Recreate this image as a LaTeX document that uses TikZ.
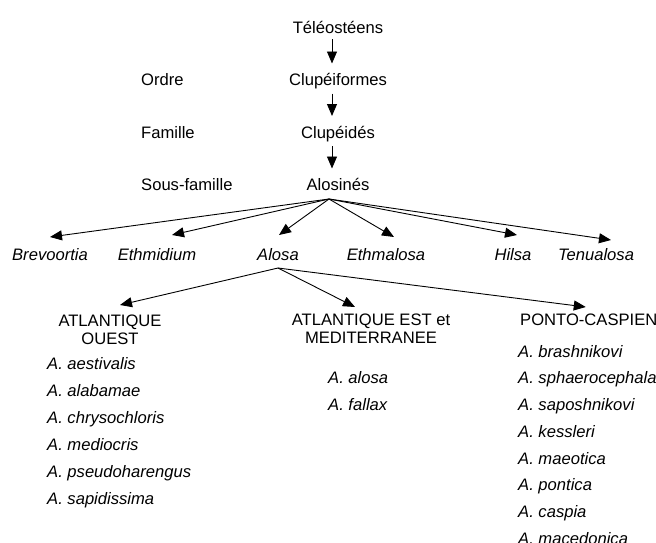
\documentclass[tikz,border=0pt]{standalone}
\usepackage{fontspec}
\setmainfont{Liberation Sans}
\usetikzlibrary{arrows.meta}
\begin{document}
\begin{tikzpicture}[x=1pt,y=-1pt,
  every node/.style={inner sep=0pt, font=\fontsize{16.6}{18}\selectfont},
  lbl/.style={anchor=base},
  rank/.style={anchor=base west},
  genus/.style={anchor=base, font=\fontsize{16.6}{18}\selectfont\itshape},
  sp/.style={anchor=base west, font=\fontsize{16.6}{18}\selectfont\itshape},
  region/.style={anchor=north, align=center},
  link/.style={line width=0.9pt, -{Triangle[length=12pt,width=10pt]}}]
\useasboundingbox (0,0) rectangle (656,542);
% main column
\node[lbl] (tel) at (338,33) {Téléostéens};
\node[lbl] (clf) at (338,85.5) {Clupéiformes};
\node[lbl] (cld) at (338,138) {Clupéidés};
\node[lbl] (als) at (338,190.5) {Alosinés};
\node[rank] (ord) at (141,85) {Ordre};
\node[rank] (fam) at (141,138) {Famille};
\node[rank] (sfam) at (141,190.5) {Sous-famille};
% genera
\node[genus] (bre) at (50,260) {Brevoortia};
\node[genus] (eth) at (157,260) {Ethmidium};
\node[genus] (alo) at (278,260) {Alosa};
\node[genus] (etm) at (386,260) {Ethmalosa};
\node[genus] (hil) at (513,260) {Hilsa};
\node[genus] (ten) at (596,260) {Tenualosa};
% regions
\node[region] (ouest) at (110,315) {ATLANTIQUE\\OUEST};
\node[region] (est) at (371,314) {ATLANTIQUE EST et\\MEDITERRANEE};
\node[rank] (ponto) at (520,325) {PONTO-CASPIEN};
% species
\node[sp] (s1) at (47,369) {A. aestivalis};
\node[sp] (s2) at (47,396) {A. alabamae};
\node[sp] (s3) at (47,423) {A. chrysochloris};
\node[sp] (s4) at (47,450) {A. mediocris};
\node[sp] (s5) at (47,477) {A. pseudoharengus};
\node[sp] (s6) at (47,504) {A. sapidissima};
\node[sp] (e1) at (328,383) {A. alosa};
\node[sp] (e2) at (328,410) {A. fallax};
\node[sp] (p1) at (518,357) {A. brashnikovi};
\node[sp] (p2) at (518,383.75) {A. sphaerocephala};
\node[sp] (p3) at (518,410.5) {A. saposhnikovi};
\node[sp] (p4) at (518,437.25) {A. kessleri};
\node[sp] (p5) at (518,464) {A. maeotica};
\node[sp] (p6) at (518,490.75) {A. pontica};
\node[sp] (p7) at (518,517.5) {A. caspia};
\node[sp] (p8) at (518,544.25) {A. macedonica};
% vertical arrows
\draw[link] ([shift={(-6pt,-6pt)}]tel.base) -- ([shift={(-6pt,22pt)}]clf.base);
\draw[link] ([shift={(-6pt,-8pt)}]clf.base) -- ([shift={(-6pt,22pt)}]cld.base);
\draw[link] ([shift={(-6pt,-8pt)}]cld.base) -- ([shift={(-6pt,22pt)}]als.base);
% Alosines to genera
\coordinate (o) at ([shift={(-9pt,-8.5pt)}]als.base);
\draw[link] (o) -- ([shift={(0pt,23pt)}]bre.base);
\draw[link] (o) -- ([shift={(15pt,25pt)}]eth.base);
\draw[link] (o) -- ([shift={(1pt,25pt)}]alo.base);
\draw[link] (o) -- ([shift={(8pt,23pt)}]etm.base);
\draw[link] (o) -- ([shift={(4pt,25pt)}]hil.base);
\draw[link] (o) -- ([shift={(15pt,20pt)}]ten.base);
% Alosa to regions
\coordinate (a) at ([shift={(0pt,-8pt)}]alo.base);
\draw[link] (a) -- ([shift={(10pt,10pt)}]ouest.north);
\draw[link] (a) -- ([shift={(-16pt,7pt)}]est.north);
\draw[link] (a) -- ([shift={(-3pt,18pt)}]ponto.base);
\end{tikzpicture}
\end{document}
